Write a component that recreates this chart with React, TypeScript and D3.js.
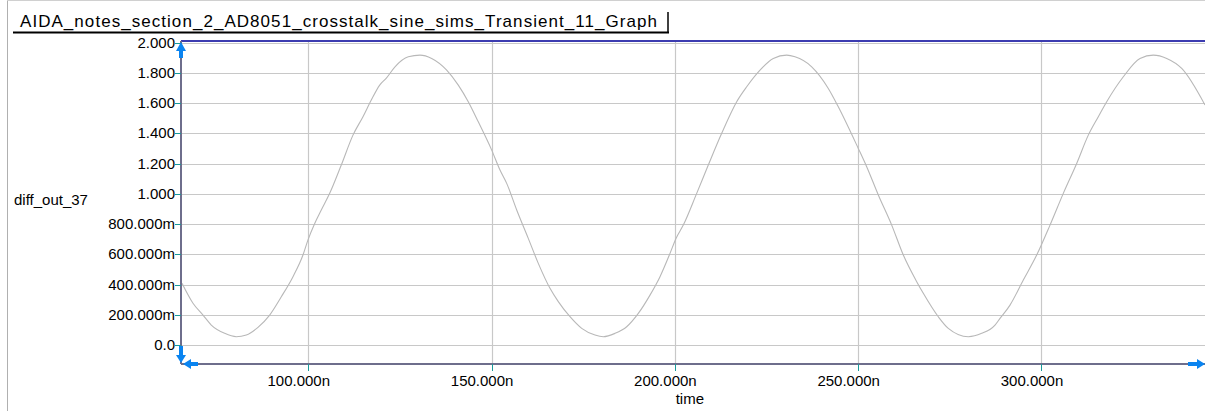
import React from "react";
import * as d3 from "d3";

const TITLE = "AIDA_notes_section_2_AD8051_crosstalk_sine_sims_Transient_11_Graph";
const Y_LABEL = "diff_out_37";
const X_LABEL = "time";

// time in ns
const times = [
  65.55, 68.55, 71.28, 73.54, 77.2, 80.36, 83.09, 86.28, 89.47, 92.64, 95.83, 98.55, 99.9,
  101.75, 103.55, 105.84, 109.0, 112.19, 114.92, 117.19, 119.48, 121.3, 123.65, 127.28,
  130.47, 133.66, 137.75, 140.92, 143.64, 146.37, 150.03, 152.29, 154.12, 156.85, 160.01,
  162.74, 165.93, 168.2, 171.39, 174.58, 178.21, 180.47, 183.66, 186.85, 190.02, 193.21,
  195.94, 198.67, 200.3, 202.29, 205.95, 209.11, 212.77, 216.86, 219.59, 223.22, 226.84,
  230.5, 232.76, 237.32, 241.85, 244.57, 250.03, 252.32, 255.49, 259.14, 262.31, 265.96,
  267.76, 271.85, 274.58, 280.04, 283.69, 287.32, 288.68, 291.41, 295.04, 298.69, 302.32,
  305.95, 309.6, 312.77, 315.5, 317.79, 322.32, 326.87, 330.5, 334.16, 338.25, 344.6,
];
// volts
const values = [
  0.408, 0.276, 0.198, 0.132, 0.077, 0.055, 0.066, 0.117, 0.198, 0.319, 0.452, 0.595, 0.694,
  0.804, 0.893, 1.003, 1.19, 1.388, 1.51, 1.62, 1.719, 1.765, 1.84, 1.906,
  1.917, 1.895, 1.818, 1.719, 1.609, 1.476, 1.289, 1.157, 1.069, 0.893, 0.705,
  0.54, 0.375, 0.287, 0.187, 0.11, 0.066, 0.055, 0.077, 0.121, 0.209, 0.33,
  0.452, 0.606, 0.705, 0.793, 1.003, 1.19, 1.4, 1.609, 1.708, 1.818, 1.895,
  1.917, 1.906, 1.84, 1.697, 1.576, 1.3, 1.179, 0.992, 0.793, 0.595, 0.419,
  0.342, 0.187, 0.11, 0.055, 0.077, 0.132, 0.176, 0.264, 0.43, 0.595, 0.793,
  1.003, 1.201, 1.388, 1.51, 1.609, 1.774, 1.895, 1.917, 1.895, 1.829, 1.587,
];

const yTicks = [0, 0.2, 0.4, 0.6, 0.8, 1.0, 1.2, 1.4, 1.6, 1.8, 2.0];
const yTickLabels = ["0.0", "200.000m", "400.000m", "600.000m", "800.000m", "1.000", "1.200", "1.400", "1.600", "1.800", "2.000"];
const xTicks = [100, 150, 200, 250, 300];
const xTickLabels = ["100.000n", "150.000n", "200.000n", "250.000n", "300.000n"];

const X_DOMAIN = [65.28, 344.6];
const Y_DOMAIN = [-0.1256, 2.0106];

export default function App() {
  const W = 1205, H = 411;
  const left = 181, right = 1205, top = 41, bottom = 364;
  const x = d3.scaleLinear().domain(X_DOMAIN).range([left, right]);
  const y = d3.scaleLinear().domain(Y_DOMAIN).range([bottom, top]);
  const data = times.map((t, i) => [t, values[i]] as [number, number]);
  const line = d3.line<[number, number]>().x(d => x(d[0])).y(d => y(d[1])).curve(d3.curveMonotoneX);
  const font = "'Liberation Sans', Arial, sans-serif";
  const blue = "#0a84f0";
  return (
    <svg width={W} height={H} style={{ position: "absolute", left: 0, top: 0, display: "block", background: "#fff" }} fontFamily={font}>
      <defs>
        <clipPath id="plotclip"><rect x={left} y={top} width={right - left} height={bottom - top} /></clipPath>
      </defs>
      {/* frame */}
      <line x1={7.5} y1={0} x2={7.5} y2={H} stroke="#b0b0b0" strokeWidth={1} />
      <line x1={7} y1={0.5} x2={W} y2={0.5} stroke="#d0d0d0" strokeWidth={1} />
      {/* title */}
      <text x={20} y={27} fontSize={17} fill="#000" textLength={637} lengthAdjust="spacing">{TITLE}</text>
      <line x1={13} y1={32.5} x2={669} y2={32.5} stroke="#000" strokeWidth={2} />
      <line x1={668} y1={12} x2={668} y2={33} stroke="#000" strokeWidth={1.5} />
      {/* grid */}
      {yTicks.map((v, i) => (
        <line key={"gy" + i} x1={left} x2={right} y1={Math.round(y(v)) + 0.5} y2={Math.round(y(v)) + 0.5} stroke="#c8c8c8" strokeWidth={1} />
      ))}
      {xTicks.map((v, i) => (
        <line key={"gx" + i} x1={Math.round(x(v)) + 0.5} x2={Math.round(x(v)) + 0.5} y1={top} y2={bottom} stroke="#c8c8c8" strokeWidth={1.2} />
      ))}
      {/* curve */}
      <path d={line(data) || ""} fill="none" stroke="#b8b8b8" strokeWidth={1.1} clipPath="url(#plotclip)" />
      {/* axes */}
      <line x1={left} x2={right} y1={top} y2={top} stroke="#3c3cb0" strokeWidth={2} />
      <line x1={left} x2={left} y1={top} y2={bottom} stroke="#6e6e8c" strokeWidth={2} />
      <line x1={left} x2={right} y1={bottom} y2={bottom} stroke="#6e6e8c" strokeWidth={2} />
      {/* y ticks */}
      {yTicks.map((v, i) => (
        <g key={"ty" + i}>
          <line x1={left - 6} x2={left} y1={Math.round(y(v)) + 0.5} y2={Math.round(y(v)) + 0.5} stroke="#1a9a9a" strokeWidth={1} />
          <text x={left - 6} y={y(v) + 5} fontSize={15} textAnchor="end" fill="#000">{yTickLabels[i]}</text>
        </g>
      ))}
      {/* x ticks */}
      {xTicks.map((v, i) => (
        <g key={"tx" + i}>
          <line x1={Math.round(x(v)) + 0.5} x2={Math.round(x(v)) + 0.5} y1={bottom} y2={bottom + 7} stroke="#1a9a9a" strokeWidth={1} />
          <text x={x(v) - 9.5} y={bottom + 22} fontSize={15} textAnchor="middle" fill="#000">{xTickLabels[i]}</text>
        </g>
      ))}
      <text x={x(200) + 15} y={bottom + 40} fontSize={15} textAnchor="middle" fill="#000">{X_LABEL}</text>
      <text x={14} y={205} fontSize={15} fill="#000">{Y_LABEL}</text>
      {/* arrows */}
      <path d={`M${left},${top + 1} L${left - 5},${top + 10} L${left - 2},${top + 10} L${left - 2},${top + 17} L${left + 2},${top + 17} L${left + 2},${top + 10} L${left + 5},${top + 10} Z`} fill={blue} />
      <path d={`M${left - 2},${bottom - 18} L${left + 2},${bottom - 18} L${left + 2},${bottom - 9} L${left + 5},${bottom - 9} L${left},${bottom - 1} L${left - 5},${bottom - 9} L${left - 2},${bottom - 9} Z`} fill={blue} />
      <path d={`M${left + 2},${bottom} L${left + 10},${bottom - 5} L${left + 10},${bottom - 2} L${left + 17},${bottom - 2} L${left + 17},${bottom + 2} L${left + 10},${bottom + 2} L${left + 10},${bottom + 5} Z`} fill={blue} />
      <path d={`M${right - 17},${bottom - 2} L${right - 8},${bottom - 2} L${right - 8},${bottom - 5} L${right},${bottom} L${right - 8},${bottom + 5} L${right - 8},${bottom + 2} L${right - 17},${bottom + 2} Z`} fill={blue} />
    </svg>
  );
}
